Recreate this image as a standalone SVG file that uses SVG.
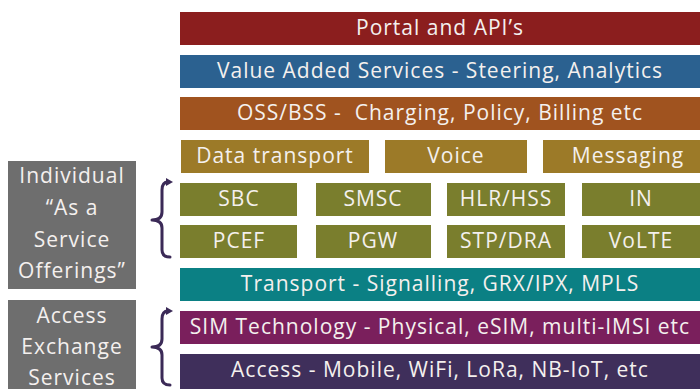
<svg xmlns="http://www.w3.org/2000/svg" width="700" height="389" viewBox="0 0 700 389">
<style>
text{font-family:"Open Sans","Liberation Sans",sans-serif;font-size:21px;letter-spacing:1px;fill:#f4f0ee;text-anchor:middle}
.side{fill:#6e6e6e}
.brace{fill:none;stroke:#3b2a57;stroke-width:3;stroke-linecap:round;stroke-linejoin:round}
.tip{fill:#3b2a57}
</style>
<rect width="700" height="389" fill="#ffffff"/>
<g id="portal"><rect x="180" y="12" width="520" height="33" fill="#8b1e1e"/><text x="440" y="35">Portal and API’s</text></g>
<g id="vas"><rect x="180" y="55" width="520" height="33" fill="#2b6190"/><text x="440" y="78">Value Added Services - Steering, Analytics</text></g>
<g id="oss"><rect x="180" y="97" width="520" height="33" fill="#a0531f"/><text x="440" y="120" xml:space="preserve">OSS/BSS -  Charging, Policy, Billing etc</text></g>
<g id="data"><rect x="181" y="140" width="188" height="33" fill="#9c7a28"/><text x="275" y="163">Data transport</text></g>
<g id="voice"><rect x="385" y="140" width="142" height="33" fill="#9c7a28"/><text x="456" y="163">Voice</text></g>
<g id="messaging"><rect x="543" y="140" width="157" height="33" fill="#9c7a28"/><text x="628" y="163">Messaging</text></g>
<g id="sbc"><rect x="180" y="183" width="117" height="33" fill="#7a7e2d"/><text x="239" y="206">SBC</text></g>
<g id="smsc"><rect x="316" y="183" width="115" height="33" fill="#7a7e2d"/><text x="373" y="206">SMSC</text></g>
<g id="hlr"><rect x="447" y="183" width="118" height="33" fill="#7a7e2d"/><text x="506" y="206">HLR/HSS</text></g>
<g id="in"><rect x="582" y="183" width="118" height="33" fill="#7a7e2d"/><text x="641" y="206">IN</text></g>
<g id="pcef"><rect x="180" y="225" width="117" height="33" fill="#7a7e2d"/><text x="239" y="248">PCEF</text></g>
<g id="pgw"><rect x="316" y="225" width="115" height="33" fill="#7a7e2d"/><text x="373" y="248">PGW</text></g>
<g id="stp"><rect x="447" y="225" width="118" height="33" fill="#7a7e2d"/><text x="506" y="248">STP/DRA</text></g>
<g id="volte"><rect x="582" y="225" width="118" height="33" fill="#7a7e2d"/><text x="641" y="248">VoLTE</text></g>
<g id="transport"><rect x="180" y="268" width="520" height="33" fill="#0b8084"/><text x="440" y="291">Transport - Signalling, GRX/IPX, MPLS</text></g>
<g id="sim"><rect x="180" y="311" width="520" height="33" fill="#7a1f5c"/><text x="440" y="334">SIM Technology - Physical, eSIM, multi-IMSI etc</text></g>
<g id="access"><rect x="180" y="354" width="520" height="35" fill="#3f2f5b"/><text x="440" y="377">Access - Mobile, WiFi, LoRa, NB-IoT, etc</text></g>
<g id="individual"><rect class="side" x="8" y="161" width="128" height="128"/>
<text x="72" y="183">Individual</text><text x="72" y="215">“As a</text><text x="72" y="247">Service</text><text x="72" y="278">Offerings”</text></g>
<g id="accessex"><rect class="side" x="8" y="300" width="128" height="89"/>
<text x="72" y="323">Access</text><text x="72" y="354">Exchange</text><text x="72" y="385">Services</text></g>
<g id="connectors">
<path class="brace" d="M168 182 Q162 182 162 190 L162 212 Q162 220 152 220 Q162 220 162 228 L162 250 Q162 257 170 257"/>
<polygon class="tip" points="166,178 173,182 166,186"/>
<path class="brace" d="M168 311 Q162 311 162 319 L162 339 Q162 347 152 347 Q162 347 162 355 L162 378 Q162 385 170 385"/>
<polygon class="tip" points="166,307 173,311 166,315"/>
</g>
</svg>
